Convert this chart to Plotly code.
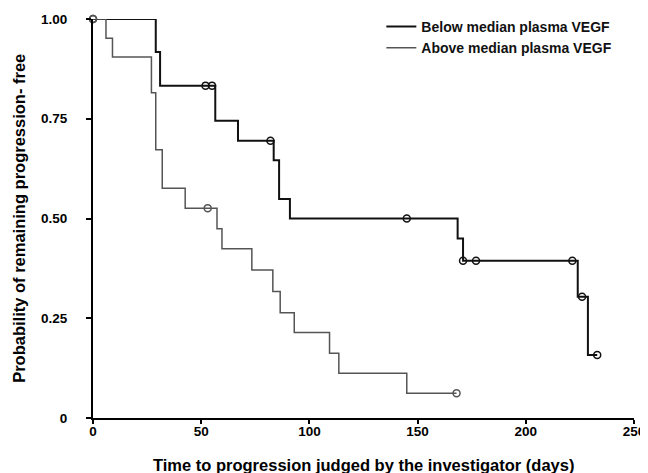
import plotly.graph_objects as go

# Below median plasma VEGF (step curve)
below_t = [0, 29, 31, 56.5, 67, 83.5, 86, 91, 168.5, 171, 224, 228.7, 233]
below_s = [1.0, 0.917, 0.833, 0.745, 0.695, 0.646, 0.549, 0.5, 0.45, 0.394, 0.304, 0.158, 0.158]
below_cens_t = [0, 52, 55, 82, 145, 171, 177, 221.5, 226, 233]
below_cens_s = [1.0, 0.833, 0.833, 0.695, 0.5, 0.394, 0.394, 0.394, 0.304, 0.158]

# Above median plasma VEGF (step curve)
above_t = [0, 6, 9, 27, 29, 32, 42.6, 57.3, 59.6, 73.4, 83.1, 86.5, 93, 109.3, 113.6, 145, 168]
above_s = [1.0, 0.952, 0.905, 0.815, 0.672, 0.576, 0.526, 0.474, 0.424, 0.371, 0.317, 0.264,
           0.214, 0.162, 0.112, 0.062, 0.062]
above_cens_t = [0, 53, 168]
above_cens_s = [1.0, 0.526, 0.062]

x_ticks = [0, 50, 100, 150, 200, 250]
x_ticklabels = ["0", "50", "100", "150", "200", "250"]
y_ticks = [0, 0.25, 0.5, 0.75, 1.0]
y_ticklabels = ["0", "0.25", "0.50", "0.75", "1.00"]

FONT = "Liberation Sans"
BLACK = "#111111"
GRAY = "#555555"

fig = go.Figure()
fig.add_trace(go.Scatter(x=below_t, y=below_s, mode="lines", line=dict(color=BLACK, width=2, shape="hv"),
                         name="Below median plasma VEGF", cliponaxis=False))
fig.add_trace(go.Scatter(x=above_t, y=above_s, mode="lines", line=dict(color=GRAY, width=1.5, shape="hv"),
                         name="Above median plasma VEGF", cliponaxis=False))
fig.add_trace(go.Scatter(x=below_cens_t, y=below_cens_s, mode="markers", showlegend=False, cliponaxis=False,
                         marker=dict(symbol="circle-open", size=7, color=BLACK, line=dict(width=1.5))))
fig.add_trace(go.Scatter(x=above_cens_t, y=above_cens_s, mode="markers", showlegend=False, cliponaxis=False,
                         marker=dict(symbol="circle-open", size=7, color=GRAY, line=dict(width=1.5))))

fig.update_layout(
    width=640, height=465,
    margin=dict(l=85, r=14, t=11, b=55, autoexpand=False),
    plot_bgcolor="white", paper_bgcolor="white",
    font=dict(family=FONT, size=12, color="black"),
    showlegend=True,
    legend=dict(x=0.533, y=1.02, xanchor="left", yanchor="top", bgcolor="rgba(0,0,0,0)",
                font=dict(family=FONT, size=14, color="#111", weight="bold"), tracegroupgap=0),
    xaxis=dict(range=[0, 250], tickvals=x_ticks, ticktext=x_ticklabels, showline=True, linecolor="black",
               linewidth=2, ticks="outside", ticklen=4, tickwidth=1.5, tickcolor="black", showgrid=False,
               zeroline=False, automargin=False, ticklabelstandoff=-4,
               tickfont=dict(family=FONT, size=13.5, weight="bold")),
    yaxis=dict(range=[0, 1], tickvals=y_ticks, ticktext=y_ticklabels, showline=True, linecolor="black",
               linewidth=2, ticks="outside", ticklen=5, tickwidth=1.5, tickcolor="black", showgrid=False,
               zeroline=False, automargin=False, ticklabelstandoff=16,
               tickfont=dict(family=FONT, size=13.5, weight="bold")),
    annotations=[
        dict(text="<b>Probability of remaining progression- free</b>", xref="paper", yref="paper",
             x=-0.138, y=0.5, xanchor="center", yanchor="middle", textangle=-90, showarrow=False,
             font=dict(family=FONT, size=16.5)),
        dict(text="<b>Time to progression judged by the investigator (days)</b>", xref="paper", yref="paper",
             x=0.5, y=-0.118, xanchor="center", yanchor="middle", showarrow=False,
             font=dict(family=FONT, size=16.5)),
    ],
)

fig.write_html("out.html")
